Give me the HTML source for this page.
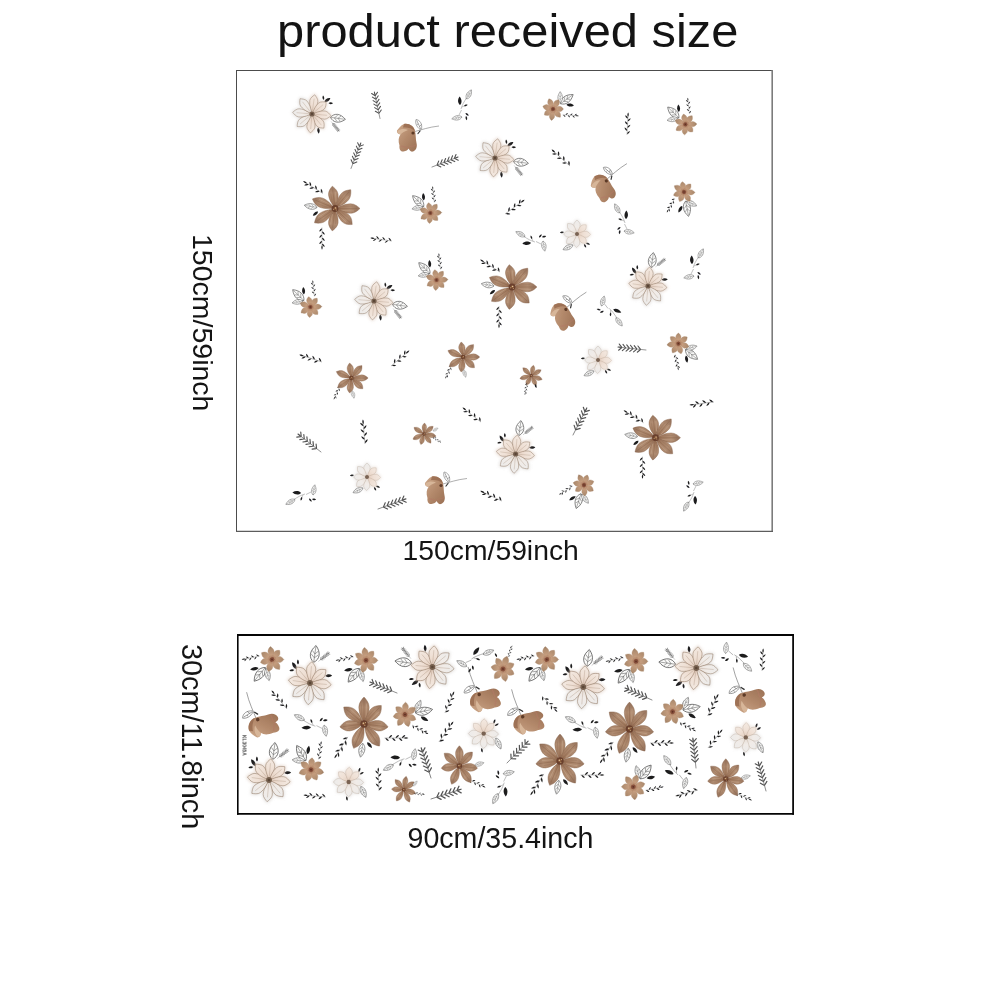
<!DOCTYPE html>
<html><head><meta charset="utf-8">
<style>
html,body{margin:0;padding:0;background:#fff;}
body{width:1000px;height:1000px;position:relative;overflow:hidden;font-family:"Liberation Sans",Arial,sans-serif;color:#141414;}
.t{position:absolute;white-space:nowrap;line-height:1;filter:grayscale(1);}
#title{left:276.8px;top:7.5px;font-size:46.5px;transform-origin:0 0;transform:scaleX(1.05);}
#w1{left:402.6px;top:536.2px;font-size:28.3px;}
#w2{left:407.5px;top:824.3px;font-size:28.6px;}
.v{transform-origin:0 0;transform:rotate(90deg);}
#h1{left:217.3px;top:233.5px;font-size:28.5px;}
#h2{left:206.4px;top:643.6px;font-size:28.8px;}
svg{position:absolute;left:0;top:0;}
</style></head><body>
<div class="t" id="title">product received size</div>
<div class="t" id="w1">150cm/59inch</div>
<div class="t" id="w2">90cm/35.4inch</div>
<div class="t v" id="h1">150cm/59inch</div>
<div class="t v" id="h2">30cm/11.8inch</div>
<svg id="art" width="1000" height="1000" viewBox="0 0 1000 1000">
<defs>
<linearGradient id="gb" x1="0" y1="0" x2="0" y2="-24" gradientUnits="userSpaceOnUse"><stop offset="0" stop-color="#835b43"/><stop offset=".28" stop-color="#a27b60"/><stop offset=".65" stop-color="#b08c71"/><stop offset="1" stop-color="#93705a"/></linearGradient>
<linearGradient id="gs" x1="0" y1="0" x2="0" y2="-12" gradientUnits="userSpaceOnUse"><stop offset="0" stop-color="#a26c50"/><stop offset=".35" stop-color="#c59d7e"/><stop offset=".8" stop-color="#ad8b6e"/><stop offset="1" stop-color="#8a6e58"/></linearGradient>
<linearGradient id="gc" x1="0" y1="0" x2="0" y2="-20" gradientUnits="userSpaceOnUse"><stop offset="0" stop-color="#e2cbbb"/><stop offset=".5" stop-color="#efe0d5"/><stop offset="1" stop-color="#f3e9e1"/></linearGradient>
<linearGradient id="gw" x1="0" y1="0" x2="0" y2="-20" gradientUnits="userSpaceOnUse"><stop offset="0" stop-color="#e6dcd4"/><stop offset=".5" stop-color="#f1ece8"/><stop offset="1" stop-color="#ecebea"/></linearGradient>
<linearGradient id="gbud" x1="0" y1="0" x2="1" y2="1"><stop offset="0" stop-color="#cda88a"/><stop offset=".5" stop-color="#b3896b"/><stop offset="1" stop-color="#9a7054"/></linearGradient>
<filter id="bl" x="-30%" y="-30%" width="160%" height="160%"><feGaussianBlur stdDeviation="1.4"/></filter>
<filter id="b0" x="-2%" y="-2%" width="104%" height="104%"><feGaussianBlur stdDeviation="0.32"/></filter>
<g id="bf"><g transform="rotate(-7)"><path d="M0,0 C0.96,-3.15 4.80,-7.65 4.80,-13.95 C4.80,-18.00 1.44,-21.15 0,-22.50 C-1.44,-21.15 -4.80,-18.00 -4.80,-13.95 C-4.80,-7.65 -0.96,-3.15 0,0Z" fill="url(#gb)" stroke="#8a664d" stroke-width=".4"/><path d="M0,-3 L0,-19.5" stroke="#876148" stroke-width=".7" opacity=".55"/><path d="M1.9,-6 L2.4,-16.5" stroke="#c6a88e" stroke-width=".9" opacity=".55"/><path d="M-2,-7 L-2.4,-15.5" stroke="#8c6a54" stroke-width=".6" opacity=".45"/></g><g transform="rotate(40)"><path d="M0,0 C0.96,-3.43 4.80,-8.33 4.80,-15.19 C4.80,-19.60 1.44,-23.03 0,-24.50 C-1.44,-23.03 -4.80,-19.60 -4.80,-15.19 C-4.80,-8.33 -0.96,-3.43 0,0Z" fill="url(#gb)" stroke="#8a664d" stroke-width=".4"/><path d="M0,-3 L0,-21.5" stroke="#876148" stroke-width=".7" opacity=".55"/><path d="M1.9,-6 L2.4,-18.5" stroke="#c6a88e" stroke-width=".9" opacity=".55"/><path d="M-2,-7 L-2.4,-17.5" stroke="#8c6a54" stroke-width=".6" opacity=".45"/></g><g transform="rotate(90)"><path d="M0,0 C0.96,-3.50 4.80,-8.50 4.80,-15.50 C4.80,-20.00 1.44,-23.50 0,-25.00 C-1.44,-23.50 -4.80,-20.00 -4.80,-15.50 C-4.80,-8.50 -0.96,-3.50 0,0Z" fill="url(#gb)" stroke="#8a664d" stroke-width=".4"/><path d="M0,-3 L0,-22" stroke="#876148" stroke-width=".7" opacity=".55"/><path d="M1.9,-6 L2.4,-19" stroke="#c6a88e" stroke-width=".9" opacity=".55"/><path d="M-2,-7 L-2.4,-18" stroke="#8c6a54" stroke-width=".6" opacity=".45"/></g><g transform="rotate(133)"><path d="M0,0 C0.96,-3.29 4.80,-7.99 4.80,-14.57 C4.80,-18.80 1.44,-22.09 0,-23.50 C-1.44,-22.09 -4.80,-18.80 -4.80,-14.57 C-4.80,-7.99 -0.96,-3.29 0,0Z" fill="url(#gb)" stroke="#8a664d" stroke-width=".4"/><path d="M0,-3 L0,-20.5" stroke="#876148" stroke-width=".7" opacity=".55"/><path d="M1.9,-6 L2.4,-17.5" stroke="#c6a88e" stroke-width=".9" opacity=".55"/><path d="M-2,-7 L-2.4,-16.5" stroke="#8c6a54" stroke-width=".6" opacity=".45"/></g><g transform="rotate(187)"><path d="M0,0 C0.96,-3.15 4.80,-7.65 4.80,-13.95 C4.80,-18.00 1.44,-21.15 0,-22.50 C-1.44,-21.15 -4.80,-18.00 -4.80,-13.95 C-4.80,-7.65 -0.96,-3.15 0,0Z" fill="url(#gb)" stroke="#8a664d" stroke-width=".4"/><path d="M0,-3 L0,-19.5" stroke="#876148" stroke-width=".7" opacity=".55"/><path d="M1.9,-6 L2.4,-16.5" stroke="#c6a88e" stroke-width=".9" opacity=".55"/><path d="M-2,-7 L-2.4,-15.5" stroke="#8c6a54" stroke-width=".6" opacity=".45"/></g><g transform="rotate(235)"><path d="M0,0 C0.96,-3.50 4.80,-8.50 4.80,-15.50 C4.80,-20.00 1.44,-23.50 0,-25.00 C-1.44,-23.50 -4.80,-20.00 -4.80,-15.50 C-4.80,-8.50 -0.96,-3.50 0,0Z" fill="url(#gb)" stroke="#8a664d" stroke-width=".4"/><path d="M0,-3 L0,-22" stroke="#876148" stroke-width=".7" opacity=".55"/><path d="M1.9,-6 L2.4,-19" stroke="#c6a88e" stroke-width=".9" opacity=".55"/><path d="M-2,-7 L-2.4,-18" stroke="#8c6a54" stroke-width=".6" opacity=".45"/></g><g transform="rotate(293)"><path d="M0,0 C0.96,-3.43 4.80,-8.33 4.80,-15.19 C4.80,-19.60 1.44,-23.03 0,-24.50 C-1.44,-23.03 -4.80,-19.60 -4.80,-15.19 C-4.80,-8.33 -0.96,-3.43 0,0Z" fill="url(#gb)" stroke="#8a664d" stroke-width=".4"/><path d="M0,-3 L0,-21.5" stroke="#876148" stroke-width=".7" opacity=".55"/><path d="M1.9,-6 L2.4,-18.5" stroke="#c6a88e" stroke-width=".9" opacity=".55"/><path d="M-2,-7 L-2.4,-17.5" stroke="#8c6a54" stroke-width=".6" opacity=".45"/></g><circle r="3.4" fill="#6a412d"/><circle r="1.5" cx=".3" cy="-.2" fill="#8c5a3a"/><circle r=".7" cx=".6" cy="-.6" fill="#e2c9a0"/><circle r=".5" cx="-1.4" cy=".8" fill="#d0ae7e"/><circle r=".5" cx="1.3" cy="1.4" fill="#d0ae7e"/></g>
<g id="sf"><g transform="rotate(-10)"><path d="M0,0 C0.54,-1.47 2.70,-3.57 2.70,-6.51 C2.70,-8.40 0.81,-9.87 0,-10.50 C-0.81,-9.87 -2.70,-8.40 -2.70,-6.51 C-2.70,-3.57 -0.54,-1.47 0,0Z" fill="url(#gs)" stroke="#b08d70" stroke-width=".3"/></g><g transform="rotate(38)"><path d="M0,0 C0.54,-1.54 2.70,-3.74 2.70,-6.82 C2.70,-8.80 0.81,-10.34 0,-11.00 C-0.81,-10.34 -2.70,-8.80 -2.70,-6.82 C-2.70,-3.74 -0.54,-1.54 0,0Z" fill="url(#gs)" stroke="#b08d70" stroke-width=".3"/></g><g transform="rotate(88)"><path d="M0,0 C0.54,-1.61 2.70,-3.91 2.70,-7.13 C2.70,-9.20 0.81,-10.81 0,-11.50 C-0.81,-10.81 -2.70,-9.20 -2.70,-7.13 C-2.70,-3.91 -0.54,-1.61 0,0Z" fill="url(#gs)" stroke="#b08d70" stroke-width=".3"/></g><g transform="rotate(135)"><path d="M0,0 C0.54,-1.47 2.70,-3.57 2.70,-6.51 C2.70,-8.40 0.81,-9.87 0,-10.50 C-0.81,-9.87 -2.70,-8.40 -2.70,-6.51 C-2.70,-3.57 -0.54,-1.47 0,0Z" fill="url(#gs)" stroke="#b08d70" stroke-width=".3"/></g><g transform="rotate(185)"><path d="M0,0 C0.54,-1.47 2.70,-3.57 2.70,-6.51 C2.70,-8.40 0.81,-9.87 0,-10.50 C-0.81,-9.87 -2.70,-8.40 -2.70,-6.51 C-2.70,-3.57 -0.54,-1.47 0,0Z" fill="url(#gs)" stroke="#b08d70" stroke-width=".3"/></g><g transform="rotate(238)"><path d="M0,0 C0.54,-1.54 2.70,-3.74 2.70,-6.82 C2.70,-8.80 0.81,-10.34 0,-11.00 C-0.81,-10.34 -2.70,-8.80 -2.70,-6.82 C-2.70,-3.74 -0.54,-1.54 0,0Z" fill="url(#gs)" stroke="#b08d70" stroke-width=".3"/></g><g transform="rotate(292)"><path d="M0,0 C0.54,-1.54 2.70,-3.74 2.70,-6.82 C2.70,-8.80 0.81,-10.34 0,-11.00 C-0.81,-10.34 -2.70,-8.80 -2.70,-6.82 C-2.70,-3.74 -0.54,-1.54 0,0Z" fill="url(#gs)" stroke="#b08d70" stroke-width=".3"/></g><circle r="2.1" fill="#87503b"/><circle r=".8" fill="#5e3024"/></g>
<g id="cf"><g filter="url(#bl)" opacity=".55"><path transform="rotate(8)" d="M0,0 C1.00,-3.01 5.00,-7.31 5.00,-14.62 C5.00,-17.20 1.50,-20.21 0,-21.50 C-1.50,-20.21 -5.00,-17.20 -5.00,-14.62 C-5.00,-7.31 -1.00,-3.01 0,0Z" fill="#d9c4b6"/><path transform="rotate(50)" d="M0,0 C1.00,-2.87 5.00,-6.97 5.00,-13.94 C5.00,-16.40 1.50,-19.27 0,-20.50 C-1.50,-19.27 -5.00,-16.40 -5.00,-13.94 C-5.00,-6.97 -1.00,-2.87 0,0Z" fill="#d9c4b6"/><path transform="rotate(95)" d="M0,0 C1.00,-2.94 5.00,-7.14 5.00,-14.28 C5.00,-16.80 1.50,-19.74 0,-21.00 C-1.50,-19.74 -5.00,-16.80 -5.00,-14.28 C-5.00,-7.14 -1.00,-2.94 0,0Z" fill="#d9c4b6"/><path transform="rotate(140)" d="M0,0 C1.00,-2.87 5.00,-6.97 5.00,-13.94 C5.00,-16.40 1.50,-19.27 0,-20.50 C-1.50,-19.27 -5.00,-16.40 -5.00,-13.94 C-5.00,-6.97 -1.00,-2.87 0,0Z" fill="#d9c4b6"/><path transform="rotate(185)" d="M0,0 C1.00,-2.94 5.00,-7.14 5.00,-14.28 C5.00,-16.80 1.50,-19.74 0,-21.00 C-1.50,-19.74 -5.00,-16.80 -5.00,-14.28 C-5.00,-7.14 -1.00,-2.94 0,0Z" fill="#d9c4b6"/><path transform="rotate(230)" d="M0,0 C1.00,-3.01 5.00,-7.31 5.00,-14.62 C5.00,-17.20 1.50,-20.21 0,-21.50 C-1.50,-20.21 -5.00,-17.20 -5.00,-14.62 C-5.00,-7.31 -1.00,-3.01 0,0Z" fill="#cfcac6"/><path transform="rotate(275)" d="M0,0 C1.00,-3.01 5.00,-7.31 5.00,-14.62 C5.00,-17.20 1.50,-20.21 0,-21.50 C-1.50,-20.21 -5.00,-17.20 -5.00,-14.62 C-5.00,-7.31 -1.00,-3.01 0,0Z" fill="#cfcac6"/><path transform="rotate(322)" d="M0,0 C1.00,-3.01 5.00,-7.31 5.00,-14.62 C5.00,-17.20 1.50,-20.21 0,-21.50 C-1.50,-20.21 -5.00,-17.20 -5.00,-14.62 C-5.00,-7.31 -1.00,-3.01 0,0Z" fill="#cfcac6"/></g><g transform="rotate(8)"><path d="M0,0 C0.84,-2.80 4.20,-6.80 4.20,-13.60 C4.20,-16.00 1.26,-18.80 0,-20.00 C-1.26,-18.80 -4.20,-16.00 -4.20,-13.60 C-4.20,-6.80 -0.84,-2.80 0,0Z" fill="url(#gc)" stroke="#8f7661" stroke-width=".45"/><path d="M0,-3 L0,-16" stroke="#a08872" stroke-width=".35" opacity=".8"/></g><g transform="rotate(50)"><path d="M0,0 C0.84,-2.66 4.20,-6.46 4.20,-12.92 C4.20,-15.20 1.26,-17.86 0,-19.00 C-1.26,-17.86 -4.20,-15.20 -4.20,-12.92 C-4.20,-6.46 -0.84,-2.66 0,0Z" fill="url(#gc)" stroke="#8f7661" stroke-width=".45"/><path d="M0,-3 L0,-15" stroke="#a08872" stroke-width=".35" opacity=".8"/></g><g transform="rotate(95)"><path d="M0,0 C0.84,-2.73 4.20,-6.63 4.20,-13.26 C4.20,-15.60 1.26,-18.33 0,-19.50 C-1.26,-18.33 -4.20,-15.60 -4.20,-13.26 C-4.20,-6.63 -0.84,-2.73 0,0Z" fill="url(#gc)" stroke="#8f7661" stroke-width=".45"/><path d="M0,-3 L0,-15.5" stroke="#a08872" stroke-width=".35" opacity=".8"/></g><g transform="rotate(140)"><path d="M0,0 C0.84,-2.66 4.20,-6.46 4.20,-12.92 C4.20,-15.20 1.26,-17.86 0,-19.00 C-1.26,-17.86 -4.20,-15.20 -4.20,-12.92 C-4.20,-6.46 -0.84,-2.66 0,0Z" fill="url(#gc)" stroke="#8f7661" stroke-width=".45"/><path d="M0,-3 L0,-15" stroke="#a08872" stroke-width=".35" opacity=".8"/></g><g transform="rotate(185)"><path d="M0,0 C0.84,-2.73 4.20,-6.63 4.20,-13.26 C4.20,-15.60 1.26,-18.33 0,-19.50 C-1.26,-18.33 -4.20,-15.60 -4.20,-13.26 C-4.20,-6.63 -0.84,-2.73 0,0Z" fill="url(#gc)" stroke="#8f7661" stroke-width=".45"/><path d="M0,-3 L0,-15.5" stroke="#a08872" stroke-width=".35" opacity=".8"/></g><g transform="rotate(230)"><path d="M0,0 C0.84,-2.80 4.20,-6.80 4.20,-13.60 C4.20,-16.00 1.26,-18.80 0,-20.00 C-1.26,-18.80 -4.20,-16.00 -4.20,-13.60 C-4.20,-6.80 -0.84,-2.80 0,0Z" fill="url(#gw)" stroke="#8f7661" stroke-width=".45"/><path d="M0,-3 L0,-16" stroke="#a08872" stroke-width=".35" opacity=".8"/></g><g transform="rotate(275)"><path d="M0,0 C0.84,-2.80 4.20,-6.80 4.20,-13.60 C4.20,-16.00 1.26,-18.80 0,-20.00 C-1.26,-18.80 -4.20,-16.00 -4.20,-13.60 C-4.20,-6.80 -0.84,-2.80 0,0Z" fill="url(#gw)" stroke="#8f7661" stroke-width=".45"/><path d="M0,-3 L0,-16" stroke="#a08872" stroke-width=".35" opacity=".8"/></g><g transform="rotate(322)"><path d="M0,0 C0.84,-2.80 4.20,-6.80 4.20,-13.60 C4.20,-16.00 1.26,-18.80 0,-20.00 C-1.26,-18.80 -4.20,-16.00 -4.20,-13.60 C-4.20,-6.80 -0.84,-2.80 0,0Z" fill="url(#gw)" stroke="#8f7661" stroke-width=".45"/><path d="M0,-3 L0,-16" stroke="#a08872" stroke-width=".35" opacity=".8"/></g><circle r="2.7" fill="#76604f"/><circle r="1.2" fill="#5a4436"/></g>
<g id="sc"><g filter="url(#bl)" opacity=".5"><path transform="rotate(0)" d="M0,0 C0.75,-2.10 3.75,-5.10 3.75,-10.20 C3.75,-12.00 1.12,-14.10 0,-15.00 C-1.12,-14.10 -3.75,-12.00 -3.75,-10.20 C-3.75,-5.10 -0.75,-2.10 0,0Z" fill="#d2cdc9"/><path transform="rotate(45)" d="M0,0 C0.75,-1.96 3.75,-4.76 3.75,-9.52 C3.75,-11.20 1.12,-13.16 0,-14.00 C-1.12,-13.16 -3.75,-11.20 -3.75,-9.52 C-3.75,-4.76 -0.75,-1.96 0,0Z" fill="#dcc9bc"/><path transform="rotate(92)" d="M0,0 C0.75,-2.03 3.75,-4.93 3.75,-9.86 C3.75,-11.60 1.12,-13.63 0,-14.50 C-1.12,-13.63 -3.75,-11.60 -3.75,-9.86 C-3.75,-4.93 -0.75,-2.03 0,0Z" fill="#dcc9bc"/><path transform="rotate(135)" d="M0,0 C0.75,-1.96 3.75,-4.76 3.75,-9.52 C3.75,-11.20 1.12,-13.16 0,-14.00 C-1.12,-13.16 -3.75,-11.20 -3.75,-9.52 C-3.75,-4.76 -0.75,-1.96 0,0Z" fill="#dcc9bc"/><path transform="rotate(182)" d="M0,0 C0.75,-2.03 3.75,-4.93 3.75,-9.86 C3.75,-11.60 1.12,-13.63 0,-14.50 C-1.12,-13.63 -3.75,-11.60 -3.75,-9.86 C-3.75,-4.93 -0.75,-2.03 0,0Z" fill="#d2cdc9"/><path transform="rotate(228)" d="M0,0 C0.75,-2.10 3.75,-5.10 3.75,-10.20 C3.75,-12.00 1.12,-14.10 0,-15.00 C-1.12,-14.10 -3.75,-12.00 -3.75,-10.20 C-3.75,-5.10 -0.75,-2.10 0,0Z" fill="#d2cdc9"/><path transform="rotate(270)" d="M0,0 C0.75,-2.03 3.75,-4.93 3.75,-9.86 C3.75,-11.60 1.12,-13.63 0,-14.50 C-1.12,-13.63 -3.75,-11.60 -3.75,-9.86 C-3.75,-4.93 -0.75,-2.03 0,0Z" fill="#d2cdc9"/><path transform="rotate(318)" d="M0,0 C0.75,-2.10 3.75,-5.10 3.75,-10.20 C3.75,-12.00 1.12,-14.10 0,-15.00 C-1.12,-14.10 -3.75,-12.00 -3.75,-10.20 C-3.75,-5.10 -0.75,-2.10 0,0Z" fill="#d2cdc9"/></g><g transform="rotate(0) scale(0.700)"><path d="M0,0 C0.90,-2.80 4.50,-6.80 4.50,-13.60 C4.50,-16.00 1.35,-18.80 0,-20.00 C-1.35,-18.80 -4.50,-16.00 -4.50,-13.60 C-4.50,-6.80 -0.90,-2.80 0,0Z" fill="url(#gw)" stroke="#b09c8a" stroke-width=".4"/></g><g transform="rotate(45) scale(0.650)"><path d="M0,0 C0.90,-2.80 4.50,-6.80 4.50,-13.60 C4.50,-16.00 1.35,-18.80 0,-20.00 C-1.35,-18.80 -4.50,-16.00 -4.50,-13.60 C-4.50,-6.80 -0.90,-2.80 0,0Z" fill="url(#gc)" stroke="#b09c8a" stroke-width=".4"/></g><g transform="rotate(92) scale(0.675)"><path d="M0,0 C0.90,-2.80 4.50,-6.80 4.50,-13.60 C4.50,-16.00 1.35,-18.80 0,-20.00 C-1.35,-18.80 -4.50,-16.00 -4.50,-13.60 C-4.50,-6.80 -0.90,-2.80 0,0Z" fill="url(#gc)" stroke="#b09c8a" stroke-width=".4"/></g><g transform="rotate(135) scale(0.650)"><path d="M0,0 C0.90,-2.80 4.50,-6.80 4.50,-13.60 C4.50,-16.00 1.35,-18.80 0,-20.00 C-1.35,-18.80 -4.50,-16.00 -4.50,-13.60 C-4.50,-6.80 -0.90,-2.80 0,0Z" fill="url(#gc)" stroke="#b09c8a" stroke-width=".4"/></g><g transform="rotate(182) scale(0.675)"><path d="M0,0 C0.90,-2.80 4.50,-6.80 4.50,-13.60 C4.50,-16.00 1.35,-18.80 0,-20.00 C-1.35,-18.80 -4.50,-16.00 -4.50,-13.60 C-4.50,-6.80 -0.90,-2.80 0,0Z" fill="url(#gw)" stroke="#b09c8a" stroke-width=".4"/></g><g transform="rotate(228) scale(0.700)"><path d="M0,0 C0.90,-2.80 4.50,-6.80 4.50,-13.60 C4.50,-16.00 1.35,-18.80 0,-20.00 C-1.35,-18.80 -4.50,-16.00 -4.50,-13.60 C-4.50,-6.80 -0.90,-2.80 0,0Z" fill="url(#gw)" stroke="#b09c8a" stroke-width=".4"/></g><g transform="rotate(270) scale(0.675)"><path d="M0,0 C0.90,-2.80 4.50,-6.80 4.50,-13.60 C4.50,-16.00 1.35,-18.80 0,-20.00 C-1.35,-18.80 -4.50,-16.00 -4.50,-13.60 C-4.50,-6.80 -0.90,-2.80 0,0Z" fill="url(#gw)" stroke="#b09c8a" stroke-width=".4"/></g><g transform="rotate(318) scale(0.700)"><path d="M0,0 C0.90,-2.80 4.50,-6.80 4.50,-13.60 C4.50,-16.00 1.35,-18.80 0,-20.00 C-1.35,-18.80 -4.50,-16.00 -4.50,-13.60 C-4.50,-6.80 -0.90,-2.80 0,0Z" fill="url(#gw)" stroke="#b09c8a" stroke-width=".4"/></g><circle r="2" fill="#7a6453"/></g>
<g id="bud"><path d="M6,-6 C14,-8 22,-11 32,-12" fill="none" stroke="#8c8c8c" stroke-width=".7"/>
<path d="M13.5,-8.3 C9.5,-11 8,-15 9,-18.5 C13,-18 15.5,-14 14.5,-8.8 M13.8,-8.8 L9.8,-17.5 M12.5,-11.5 L14.5,-13.5 M11.3,-14 L10,-13.5" fill="none" stroke="#555" stroke-width=".5"/>
<path d="M13,-7 L11,-4.5" stroke="#333" stroke-width="1.2" stroke-linecap="round"/>
<path d="M-3,-14 C2,-15 7,-12 8,-7 C9,-3 8.5,1 9.5,5 C10.5,9 9,12.5 6,13.5 C3.5,14.3 2.5,12 1.5,10.5 C1,12 -1,13 -3.5,13.5 C-6.5,14 -8,11 -7.5,7.5 C-9,3 -8.5,-1 -6.5,-3.5 C-8.5,-4 -10.5,-5 -10,-7.5 C-8,-10 -6.5,-12.5 -3,-14Z" fill="url(#gbud)"/>
<path d="M-9.5,-7 C-6,-9.5 -2,-9.5 1,-8 C-2,-7 -5,-5 -6.5,-3.5 C-8.5,-4 -10,-5 -9.5,-7Z" fill="#d9b99c" opacity=".9"/>
<path d="M-3,-14 C2,-15 7,-12 8,-7 C5,-10 0,-11 -4,-10.5Z" fill="#96694e" opacity=".8"/>
<path d="M-6,8 C-3,9 0,9 1.5,10.5 M2,9 C4,8 7,8.5 9,7" fill="none" stroke="#b27a66" stroke-width="1.2" opacity=".6"/>
<circle cx="6" cy="-5" r="1.6" fill="#5d3a28"/></g>
<g id="bs"><path d="M0,0 C0.5,-7 -0.5,-14 0,-21" fill="none" stroke="#444" stroke-width=".35"/><path transform="translate(0,-1) rotate(42)" d="M0,0 C1,-1 1,-3.2 0,-4.6 C-1,-3.2 -1,-1 0,0Z" fill="#1d1d1f"/><path transform="translate(0,-4.5) rotate(-42)" d="M0,0 C1,-1 1,-3.2 0,-4.6 C-1,-3.2 -1,-1 0,0Z" fill="#1d1d1f"/><path transform="translate(0,-8) rotate(42)" d="M0,0 C1,-1 1,-3.2 0,-4.6 C-1,-3.2 -1,-1 0,0Z" fill="#1d1d1f"/><path transform="translate(0,-11.5) rotate(-42)" d="M0,0 C1,-1 1,-3.2 0,-4.6 C-1,-3.2 -1,-1 0,0Z" fill="#1d1d1f"/><path transform="translate(0,-15) rotate(42)" d="M0,0 C1,-1 1,-3.2 0,-4.6 C-1,-3.2 -1,-1 0,0Z" fill="#1d1d1f"/><path transform="translate(0,-18) rotate(-42)" d="M0,0 C1,-1 1,-3.2 0,-4.6 C-1,-3.2 -1,-1 0,0Z" fill="#1d1d1f"/><path transform="translate(0,-20)" d="M0,0 C1,-1 1,-3.2 0,-4.6 C-1,-3.2 -1,-1 0,0Z" fill="#1d1d1f"/></g>
<g id="fs" fill="none" stroke="#525252" stroke-width="1.05" stroke-linecap="round"><path d="M0,0 L0,-26" stroke-width=".55"/><path d="M.3,-5.5 L3,-8.1 M-.3,-5.5 L-3,-8.1"/><path d="M.3,-9.1 L3,-11.7 M-.3,-9.1 L-3,-11.7"/><path d="M.3,-12.7 L3,-15.3 M-.3,-12.7 L-3,-15.3"/><path d="M.3,-16.3 L3,-18.9 M-.3,-16.3 L-3,-18.9"/><path d="M.3,-19.9 L3,-22.5 M-.3,-19.9 L-3,-22.5"/><path d="M.3,-23.5 L3,-26.1 M-.3,-23.5 L-3,-26.1"/><path d="M0,-24.5 L0,-27"/></g>
<g id="ol" fill="#fbfbfa" stroke="#5a5a5a" stroke-width=".55" stroke-linejoin="round"><path d="M0,0 C3.6,-3 3.8,-8 0,-13 C-3.8,-8 -3.6,-3 0,0Z"/><path d="M0,0 L0,-12 M0,-3.5 L2.2,-6 M0,-3.5 L-2.2,-6 M0,-6.5 L1.8,-8.8 M0,-6.5 L-1.8,-8.8" fill="none" stroke-width=".35"/></g>
<path id="bk" d="M0,0 C2,-1.8 2,-5 0,-7.5 C-2,-5 -2,-1.8 0,0Z" fill="#1b1b1d"/>
<path id="tk" d="M0,0 C1.1,-1 1.1,-3 0,-4.2 C-1.1,-3 -1.1,-1 0,0Z" fill="#1b1b1d"/>
<g id="bfg"><use href="#bs" transform="translate(-12.0,-15.0) rotate(-58) scale(0.950)"/><use href="#ol" transform="translate(-18.0,-1.0) rotate(-80)"/><use href="#bk" transform="translate(-17.0,3.0) rotate(-130) scale(0.900)"/><use href="#bs" transform="translate(-13.0,19.0) rotate(180) scale(0.900)"/><use href="#bf" transform="translate(0.0,0.0)"/></g>
<g id="mfg"><use href="#bs" transform="translate(-17.0,12.0) rotate(205) scale(0.900)"/><use href="#ol" transform="translate(1.0,19.0) rotate(165) scale(0.900)"/><use href="#bf" transform="translate(0.0,0.0)"/></g>
<g id="sfg"><use href="#ol" transform="translate(-6.5,-6.5) rotate(-46) scale(1.250,1.200)"/><use href="#ol" transform="translate(-7.5,-6.0) rotate(-100) scale(0.850)"/><use href="#bk" transform="translate(-6.5,-12.5) rotate(-5)"/><use href="#bs" transform="translate(4.0,-10.5) rotate(-6) scale(0.660)"/><use href="#sf" transform="translate(0.0,0.0)"/></g>
<g id="cfg"><use href="#bk" transform="translate(12.8,-12.4) rotate(57) scale(0.980)"/><use href="#bk" transform="translate(12.0,-14.5) rotate(-8) scale(0.600)"/><use href="#bk" transform="translate(17.0,-11.0) rotate(88) scale(0.620)"/><use href="#ol" transform="translate(19.0,3.4) rotate(98) scale(1.450,1.200)"/><use href="#fs" transform="translate(20.0,8.0) rotate(141) scale(0.460)"/><use href="#bk" transform="translate(6.4,14.0) rotate(175) scale(0.850)"/><use href="#cf" transform="translate(0.0,0.0)"/></g>
<g id="scg"><use href="#ol" transform="translate(-4.0,11.0) rotate(-115) scale(0.850)"/><use href="#tk" transform="translate(7.0,10.0) rotate(150)"/><use href="#tk" transform="translate(9.0,9.0) rotate(110)"/><use href="#tk" transform="translate(-13.0,-2.0) rotate(-100)"/><use href="#sc" transform="translate(0.0,0.0)"/></g>
<g id="lc"><path d="M-2,4 C-1,0 1,-3 4,-8 M-1,2 L3,0 M-1.5,5 L-4,10" fill="none" stroke="#555" stroke-width=".35"/><use href="#bk" transform="translate(-3.0,0.0) rotate(-3) scale(1.150)"/><use href="#ol" transform="translate(3.5,-6.0) rotate(28) scale(0.800)"/><use href="#tk" transform="translate(1.0,1.0) rotate(70) scale(0.900)"/><use href="#ol" transform="translate(-1.0,12.0) rotate(-100) scale(0.800)"/><use href="#tk" transform="translate(2.5,8.0) rotate(130)"/><use href="#tk" transform="translate(3.0,11.0) rotate(170)"/></g>
</defs>
<g id="boxes" fill="none" shape-rendering="geometricPrecision">
<path d="M236.5,70 V531.9" stroke="#4c4c4c" stroke-width="1"/>
<path d="M236,70.5 H773" stroke="#4c4c4c" stroke-width="1"/>
<path d="M772.2,70 V531.9" stroke="#7c7c7c" stroke-width="1.6"/>
<path d="M236,531.35 H773" stroke="#5c5c5c" stroke-width="1.1"/>
<path d="M237.8,633.9 V814.8" stroke="#050505" stroke-width="1.6"/>
<path d="M237,634.9 H794" stroke="#050505" stroke-width="2.05"/>
<path d="M793.1,633.9 V814.8" stroke="#050505" stroke-width="1.75"/>
<path d="M237,813.9 H794" stroke="#050505" stroke-width="1.75"/>
</g>
<g id="box1art" filter="url(#b0)"><use href="#cfg" transform="translate(312.0,114.0) scale(0.970)"/><use href="#cfg" transform="translate(495.0,158.0) scale(0.970)"/><use href="#cfg" transform="translate(374.0,301.0) scale(0.970)"/><use href="#cfg" transform="translate(648.0,286.0) rotate(-90) scale(0.970)"/><use href="#cfg" transform="translate(515.6,454.0) rotate(-90) scale(0.970)"/><use href="#bfg" transform="translate(335.0,208.5)"/><use href="#bfg" transform="translate(512.0,287.0)"/><use href="#bfg" transform="translate(655.5,437.7)"/><use href="#mfg" transform="translate(351.4,378.0) scale(0.670)"/><use href="#mfg" transform="translate(463.0,357.0) scale(0.670)"/><use href="#sfg" transform="translate(430.3,213.0)"/><use href="#sfg" transform="translate(553.0,109.0) rotate(100)"/><use href="#sfg" transform="translate(685.4,124.4)"/><use href="#sfg" transform="translate(684.0,192.0) rotate(215)"/><use href="#sfg" transform="translate(310.4,307.0)"/><use href="#sfg" transform="translate(436.5,280.0)"/><use href="#sfg" transform="translate(678.4,343.6) rotate(175)"/><use href="#sfg" transform="translate(584.0,485.0) rotate(244)"/><use href="#bf" transform="translate(531.2,375.6) rotate(20) scale(0.470)"/><use href="#bs" transform="translate(527.0,383.0) rotate(190) scale(0.500)"/><use href="#tk" transform="translate(535.0,384.0) rotate(160)"/><use href="#bf" transform="translate(424.0,434.0) rotate(10) scale(0.490)"/><use href="#bs" transform="translate(433.0,437.0) rotate(125) scale(0.400)"/><use href="#ol" transform="translate(433.0,431.0) rotate(60) scale(0.450)"/><use href="#scg" transform="translate(577.0,234.0)"/><use href="#scg" transform="translate(598.0,360.0)"/><use href="#scg" transform="translate(367.0,477.0)"/><use href="#bud" transform="translate(407.0,138.0)"/><use href="#bud" transform="translate(603.0,188.0) rotate(-25)"/><use href="#bud" transform="translate(562.5,316.5) rotate(-25)"/><use href="#bud" transform="translate(435.0,490.5)"/><use href="#fs" transform="translate(380.0,118.5) rotate(-12) scale(1.002)"/><use href="#fs" transform="translate(351.0,168.5) rotate(21) scale(1.014)"/><use href="#fs" transform="translate(432.0,167.0) rotate(69) scale(1.032)"/><use href="#fs" transform="translate(321.0,452.0) rotate(-52) scale(1.082)"/><use href="#fs" transform="translate(573.0,435.0) rotate(27) scale(1.126)"/><use href="#fs" transform="translate(646.0,350.0) rotate(-84) scale(1.043)"/><use href="#fs" transform="translate(378.0,509.0) rotate(70) scale(1.101)"/><use href="#bs" transform="translate(392.0,241.0) rotate(-82) scale(0.884)"/><use href="#bs" transform="translate(627.0,135.0) rotate(3) scale(0.918)"/><use href="#bs" transform="translate(570.0,166.0) rotate(-48) scale(1.003)"/><use href="#bs" transform="translate(505.0,214.0) rotate(54) scale(0.983)"/><use href="#bs" transform="translate(322.0,362.0) rotate(-72) scale(0.962)"/><use href="#bs" transform="translate(391.0,366.0) rotate(50) scale(0.976)"/><use href="#bs" transform="translate(365.0,444.0) rotate(-5) scale(1.003)"/><use href="#bs" transform="translate(481.0,422.0) rotate(-52) scale(0.950)"/><use href="#bs" transform="translate(714.0,402.0) rotate(-97) scale(1.008)"/><use href="#bs" transform="translate(502.0,501.0) rotate(-65) scale(0.969)"/><use href="#lc" transform="translate(463.0,105.0)"/><use href="#lc" transform="translate(531.0,240.0) rotate(-90)"/><use href="#lc" transform="translate(623.0,219.0) scale(-1.000,1.000)"/><use href="#lc" transform="translate(695.0,264.0)"/><use href="#lc" transform="translate(612.0,312.0) rotate(115)"/><use href="#lc" transform="translate(301.0,496.0) rotate(-90) scale(-1.000,1.000)"/><use href="#lc" transform="translate(692.0,496.0) rotate(180)"/></g>
<g id="box2art" filter="url(#b0)"><use href="#cfg" transform="translate(310.0,683.0) rotate(-90) scale(1.088)"/><use href="#cfg" transform="translate(432.4,667.0) rotate(180) scale(1.088)"/><use href="#cfg" transform="translate(583.3,687.0) rotate(-90) scale(1.088)"/><use href="#cfg" transform="translate(696.3,668.0) rotate(180) scale(1.088)"/><use href="#cfg" transform="translate(269.0,780.0) rotate(-90) scale(1.088)"/><use href="#bfg" transform="translate(364.0,724.0) rotate(-90) scale(1.078)"/><use href="#bfg" transform="translate(560.0,761.0) rotate(-90) scale(1.078)"/><use href="#bfg" transform="translate(629.5,729.0) rotate(-90) scale(1.078)"/><use href="#mfg" transform="translate(459.4,766.0) rotate(-90) scale(0.811)"/><use href="#mfg" transform="translate(725.8,779.0) rotate(-90) scale(0.811)"/><use href="#sfg" transform="translate(272.0,659.5) rotate(265) scale(1.133)"/><use href="#sfg" transform="translate(366.0,660.4) rotate(265) scale(1.133)"/><use href="#sfg" transform="translate(546.8,659.5) rotate(265) scale(1.133)"/><use href="#sfg" transform="translate(636.0,661.4) rotate(265) scale(1.133)"/><use href="#sfg" transform="translate(311.0,769.7) rotate(15) scale(1.133)"/><use href="#sfg" transform="translate(405.0,714.6) rotate(125) scale(1.133)"/><use href="#sfg" transform="translate(672.6,711.7) rotate(125) scale(1.133)"/><use href="#sfg" transform="translate(633.3,786.8) rotate(85) scale(1.133)"/><use href="#bf" transform="translate(403.8,789.7) rotate(-80) scale(0.550)"/><use href="#bs" transform="translate(414.0,793.0) rotate(100) scale(0.450)"/><use href="#ol" transform="translate(413.0,786.0) rotate(40) scale(0.500)"/><use href="#sf" transform="translate(503.0,669.0) rotate(-70) scale(1.155)"/><use href="#bs" transform="translate(508.0,657.0) rotate(20) scale(0.500)"/><use href="#tk" transform="translate(497.0,657.0) rotate(-30)"/><use href="#scg" transform="translate(348.7,782.0) rotate(-90) scale(1.100)"/><use href="#scg" transform="translate(483.7,733.6) rotate(-90) scale(1.100)"/><use href="#scg" transform="translate(745.8,737.4) rotate(-90) scale(1.100)"/><use href="#bud" transform="translate(264.0,725.5) rotate(-97) scale(1.100)"/><use href="#bud" transform="translate(485.5,700.3) rotate(-97) scale(1.100)"/><use href="#bud" transform="translate(529.0,722.7) rotate(-97) scale(1.100)"/><use href="#bud" transform="translate(750.5,700.8) rotate(-97) scale(1.100)"/><use href="#fs" transform="translate(397.0,693.0) rotate(-68) scale(1.080)"/><use href="#fs" transform="translate(431.0,778.0) rotate(-18) scale(1.171)"/><use href="#fs" transform="translate(431.0,799.0) rotate(72) scale(1.171)"/><use href="#fs" transform="translate(507.0,763.0) rotate(44) scale(1.126)"/><use href="#fs" transform="translate(652.0,700.0) rotate(-66) scale(1.094)"/><use href="#fs" transform="translate(696.0,768.0) rotate(-6) scale(1.117)"/><use href="#fs" transform="translate(766.0,791.0) rotate(-15) scale(1.114)"/><use href="#bs" transform="translate(287.0,709.0) rotate(-40) scale(0.976)"/><use href="#bs" transform="translate(326.0,797.0) rotate(-85) scale(0.920)"/><use href="#bs" transform="translate(379.0,791.0) rotate(-2) scale(0.959)"/><use href="#bs" transform="translate(445.0,713.0) rotate(23) scale(0.952)"/><use href="#bs" transform="translate(439.0,742.0) rotate(35) scale(1.017)"/><use href="#bs" transform="translate(542.0,696.0) rotate(136) scale(0.899)"/><use href="#bs" transform="translate(707.7,716.0) rotate(26) scale(0.990)"/><use href="#bs" transform="translate(708.0,748.0) rotate(38) scale(0.950)"/><use href="#bs" transform="translate(698.0,790.0) rotate(-105) scale(0.950)"/><use href="#bs" transform="translate(762.0,671.0) rotate(3) scale(0.918)"/><use href="#lc" transform="translate(311.0,724.0) rotate(-90) scale(1.100)"/><use href="#lc" transform="translate(400.0,761.0) rotate(-90) scale(-1.100,1.100)"/><use href="#lc" transform="translate(476.0,657.0) rotate(40) scale(1.100)"/><use href="#lc" transform="translate(582.0,726.0) rotate(-90) scale(1.100)"/><use href="#lc" transform="translate(502.0,787.0) rotate(180) scale(1.100)"/><use href="#lc" transform="translate(675.0,771.0) rotate(-65) scale(1.100)"/><use href="#lc" transform="translate(738.0,658.0) rotate(105) scale(1.100)"/></g>
<text x="0" y="0" transform="translate(242.5,735) rotate(90)" font-family="Liberation Sans, sans-serif" font-size="5.6" font-weight="bold" fill="#444" textLength="20.8" lengthAdjust="spacingAndGlyphs" filter="url(#b0)">KL3045A</text>
</svg>
</body></html>
